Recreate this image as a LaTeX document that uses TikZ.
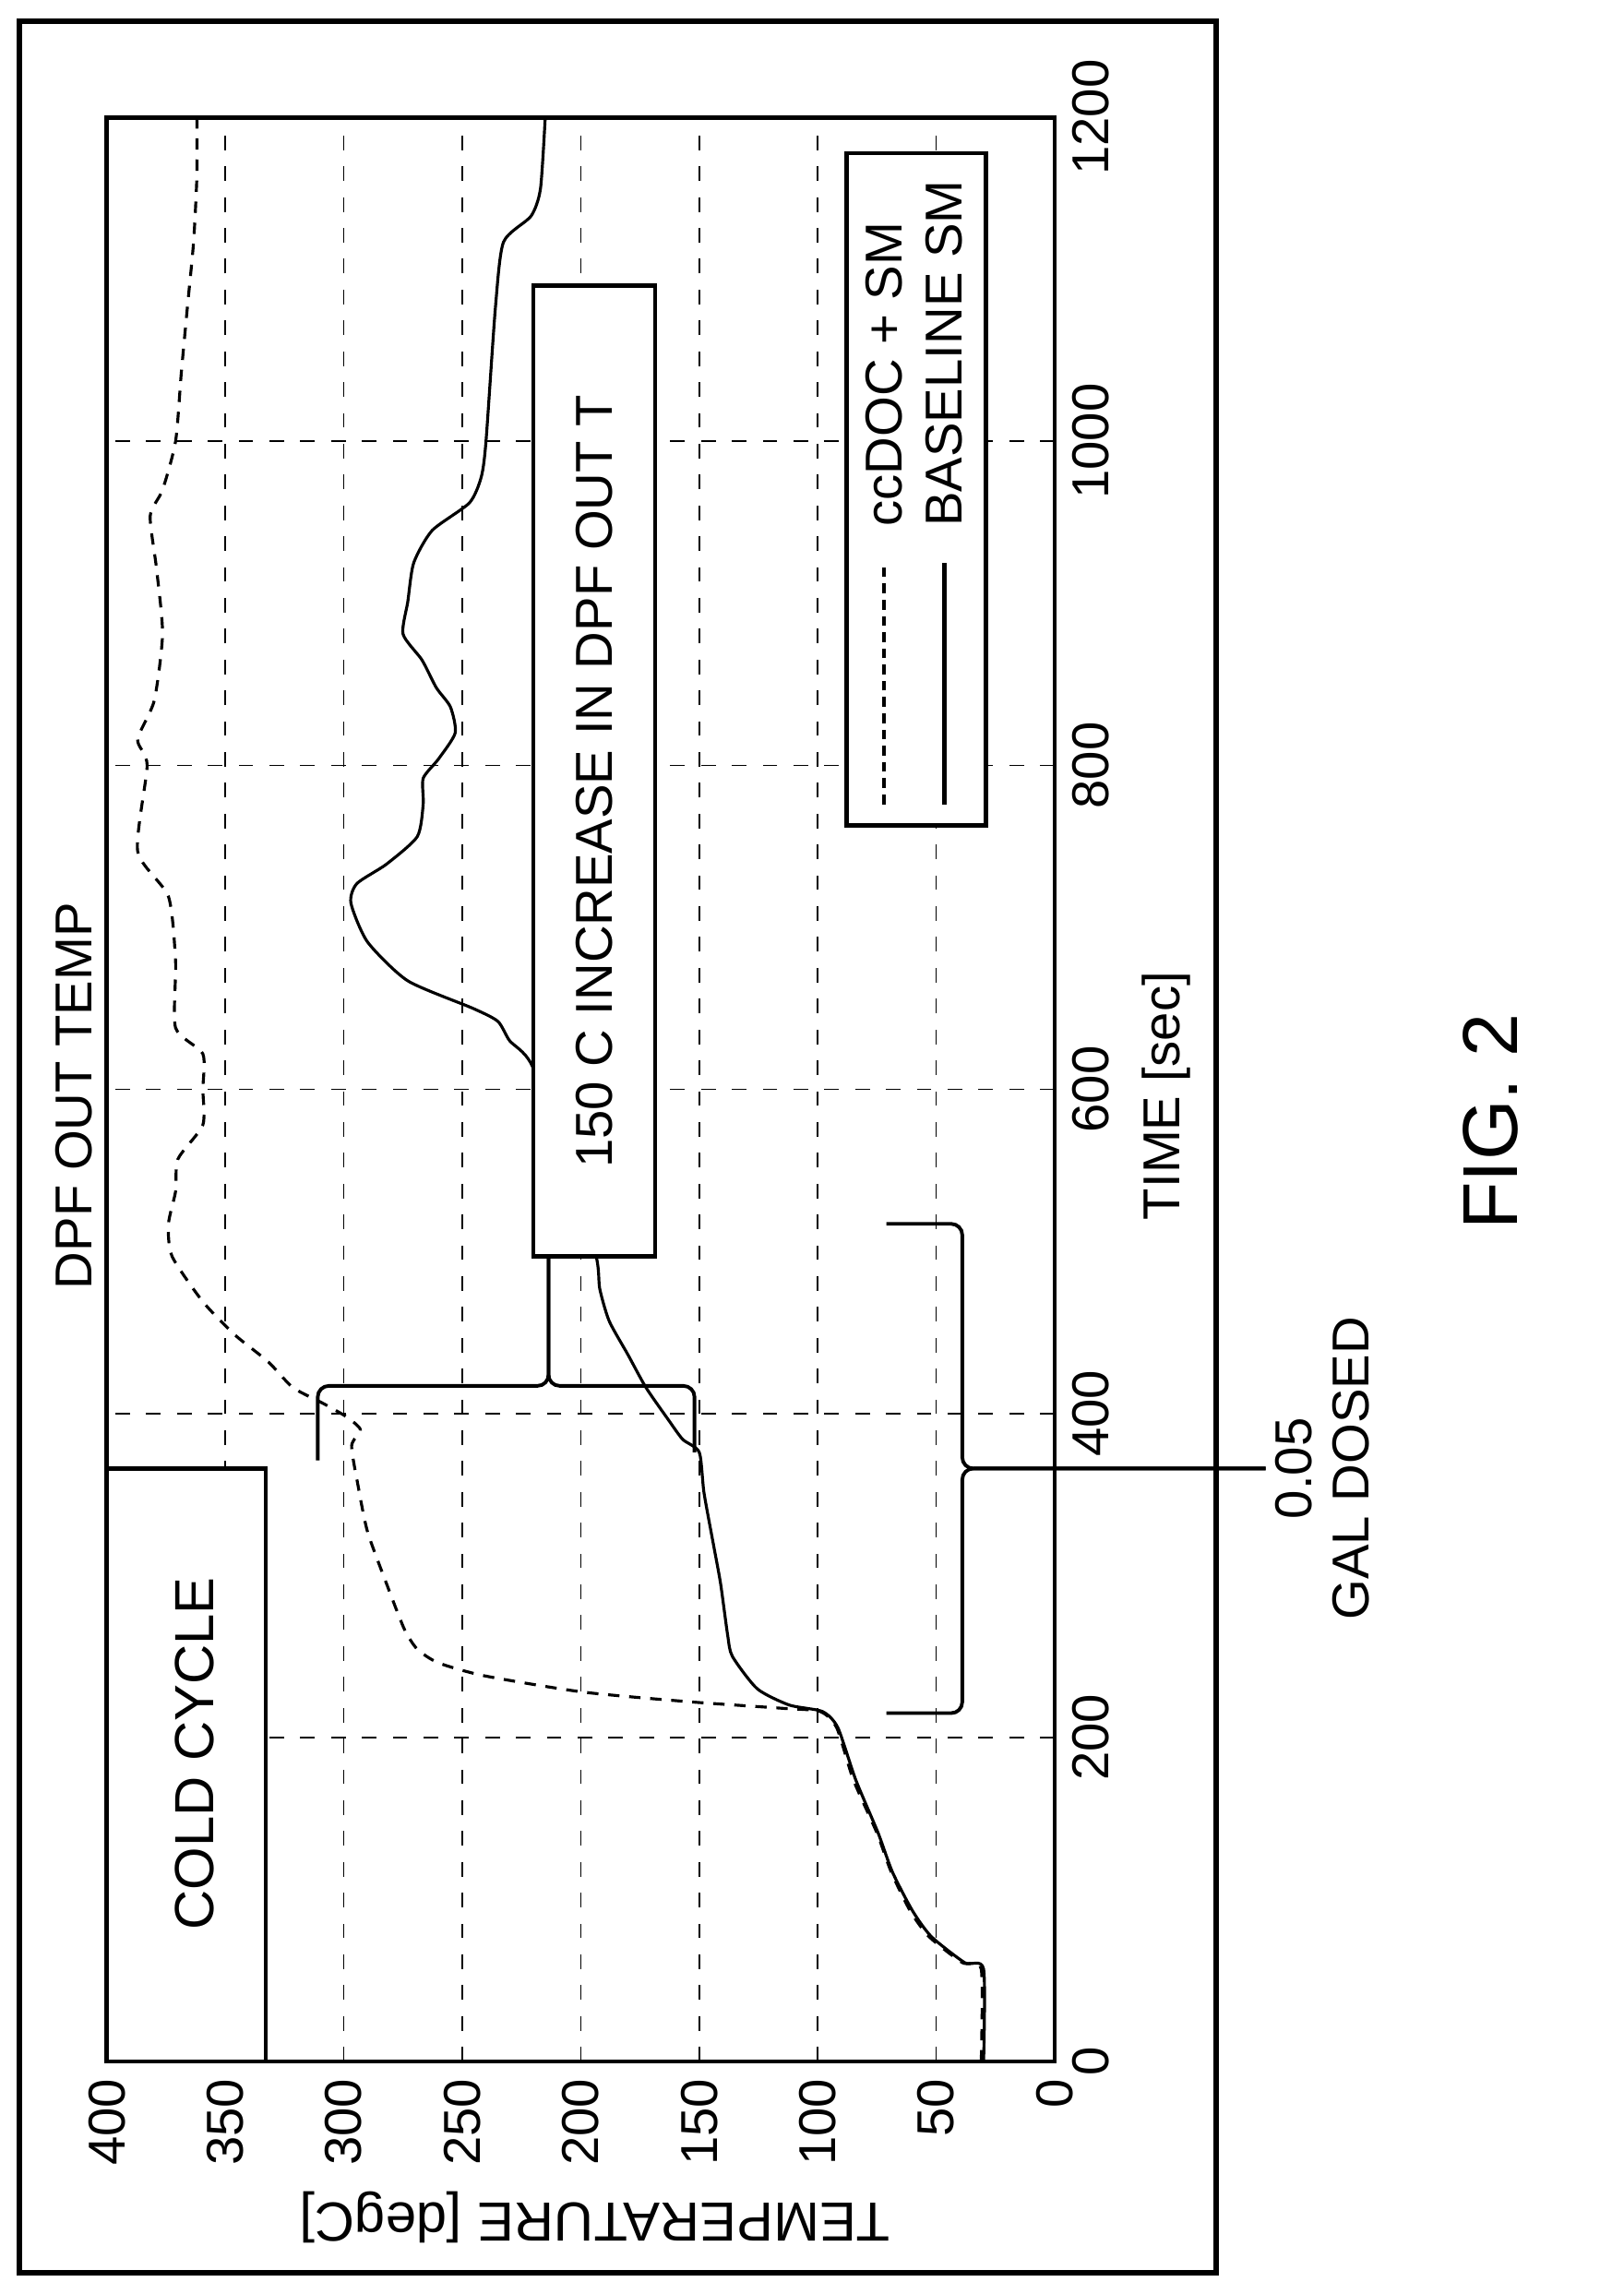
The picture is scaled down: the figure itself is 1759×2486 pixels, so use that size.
\documentclass[tikz,border=0pt]{standalone}
\usepackage{fontspec}
\setmainfont{Liberation Sans}
\begin{document}
\begin{tikzpicture}[x=0.01cm,y=-0.01cm,
  lbl/.style={font=\fontsize{16}{19}\selectfont, inner sep=0pt},
  grid/.style={line width=0.5pt, dash pattern=on 4.5pt off 5pt},
  boxn/.style={draw, line width=1.3pt, fill=white, rotate=90, inner sep=0pt},
  curveA/.style={line width=0.9pt, dash pattern=on 3.5pt off 3pt},
  curveB/.style={line width=0.9pt},
  brace/.style={line width=1.1pt, rounded corners=0.12cm}]
\useasboundingbox (0,0) rectangle (1759,2486);
\draw[line width=1.6pt] (21,23) rectangle (1318,2463);
\begin{scope}[shift={(1143,2234)}, x={(0cm,0.01755cm)}, y={(-0.02567cm,0cm)}]
% grid
\foreach \T in {50,100,...,350} \draw[grid] (0,\T) -- (1200,\T);
\foreach \t in {200,400,...,1000} \draw[grid] (\t,0) -- (\t,400);
% curves
\draw[curveB] plot[smooth, tension=0.4] coordinates {(0,30) (57,30) (61,38) (77,52) (93,60) (117,68.5) (141,74.5) (174,84) (206,91.5) (216,98) (220,112) (230,125.5) (250,136) (263,138) (295,141) (319,144) (351,148) (376,150) (384,157) (396,163) (416,172.5) (436,180) (457,188) (477,192) (497,193.5) (560,205) (616,221) (630,230) (642,235) (650,245.5) (667,273) (691,290) (715,297) (727,294.5) (739,282) (756,269) (776,266.5) (792,266.5) (804,260) (820,253) (836,255) (848,261) (865,267) (881,275) (901,273) (925,270.5) (945,262.7) (962,247) (978,242) (1000,240) (1083,236) (1123,232.6) (1139,221) (1156,217) (1200,215)};
\draw[curveA] plot[smooth, tension=0.4] coordinates {(0,31) (57,31) (61,39) (77,53) (93,61) (117,69) (141,75) (174,85) (206,92) (216,99) (218,115) (222,154) (228,199) (238,240.5) (246,260) (254.5,269) (267,274.5) (295,282) (327,290) (355.5,294) (380,296.7) (390,293) (398,299) (406,308.5) (416,321.5) (432,332) (448.5,346) (469,359.5) (497,372.5) (517,374) (537,371) (557,370) (578,359.5) (600,359.5) (622,359.5) (638,371) (679,371) (719,374) (747,387) (800,383) (816,387) (840,380) (881,376.5) (921,379) (954,381.7) (970,376.5) (1000,371) (1042,368.6) (1083,366) (1123,363.4) (1164,362) (1200,362)};
% boxes
\node[boxn, minimum width=6.42cm, minimum height=1.72cm] (cold) at (183,366.5) {};
\node[lbl, rotate=90, font=\fontsize{17}{20}\selectfont] (coldt) at (190,363) {COLD CYCLE};
\node[boxn, minimum width=10.51cm, minimum height=1.32cm] (ann) at (796.5,194.3) {};
\node[lbl, rotate=90] (annt) at (790,194.3) {150 C INCREASE IN DPF OUT T};
\node[boxn, minimum width=7.28cm, minimum height=1.51cm] (leg) at (970.5,58.5) {};
\coordinate (la1) at (776,72); \coordinate (la2) at (925,72);
\coordinate (lb1) at (776,46.5); \coordinate (lb2) at (925,46.5);
\draw[curveA, line width=1.2pt, dash pattern=on 3pt off 2pt] (la1) -- (la2);
\draw[curveB, line width=1.2pt] (lb1) -- (lb2);
\node[lbl, rotate=90, anchor=west] (lt1) at (947,72) {ccDOC + SM};
\node[lbl, rotate=90, anchor=west] (lt2) at (947,46.5) {BASELINE SM};
% top brace
\coordinate (tipA) at (417,213.6);
\draw[brace] (371,311) -- (417,311) -- (tipA) -- (tipA |- ann.west);
\draw[brace] (376,152) -- (417,152) -- (tipA) -- (tipA |- ann.west);
% dose brace
\coordinate (tipB) at (366,39);
\coordinate (doseEnd) at (366,-89);
\draw[brace] (517,71) -- (517,39) -- (tipB) -- (doseEnd);
\draw[brace] (215,71) -- (215,39) -- (tipB) -- (doseEnd);
\node[lbl, rotate=90] (d1) at (366,-101) {0.05};
\node[lbl, rotate=90] (d2) at (366,-125) {GAL DOSED};
% axes
\draw[line width=1.4pt] (0,0) rectangle (1200,400);
\foreach \T in {0,50,...,400} \node[lbl, rotate=90, anchor=east] at (-10.3,\T) {\T};
\foreach \t in {0,200,...,1200} \node[lbl, rotate=90] at (\t,-15.2) {\t};
\node[lbl, rotate=90] (tl) at (596,-47) {TIME [sec]};
\node[lbl, rotate=90] (tt) at (596,414) {DPF OUT TEMP};
\node[lbl, rotate=180, font=\fontsize{17}{20}\selectfont] (yl) at (-96,194) {TEMPERATURE [degC]};
\node[lbl, rotate=90, font=\fontsize{24}{29}\selectfont] (fig) at (580,-184) {FIG. 2};
\end{scope}
\end{tikzpicture}
\end{document}
